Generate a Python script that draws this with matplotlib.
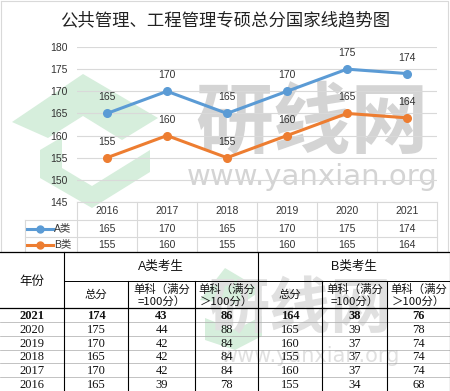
import numpy as np
import matplotlib.pyplot as plt
from matplotlib.patches import Polygon

plt.rcParams['font.family'] = ['Liberation Sans', 'Noto Sans CJK SC']

# chart data
years = ['2016', '2017', '2018', '2019', '2020', '2021']
a_total = [165, 170, 165, 170, 175, 174]
b_total = [155, 160, 155, 160, 165, 164]
series_names = ['A类', 'B类']
colors = ['#5B9BD5', '#ED7D31']

# lower table data (2021 first)
t_years = ['2021', '2020', '2019', '2018', '2017', '2016']
t_a_total = [174, 175, 170, 165, 170, 165]
t_a_eq100 = [43, 44, 42, 42, 42, 39]
t_a_gt100 = [86, 88, 84, 84, 84, 78]
t_b_total = [164, 165, 160, 155, 160, 155]
t_b_eq100 = [38, 39, 37, 37, 37, 34]
t_b_gt100 = [76, 78, 74, 74, 74, 68]
sub_heads = ['总分', '单科（满分\n=100分）', '单科（满分\n＞100分）']

W, H = 450, 391
fig = plt.figure(figsize=(W / 100, H / 100), dpi=100)

# background axes in pixel coords
bg = fig.add_axes([0, 0, 1, 1])
bg.set_xlim(0, W)
bg.set_ylim(H, 0)
bg.axis('off')

# watermark (logo + text)
wm_green = '#d6eedc'
for poly in [
    [(12, 122), (83, 74), (158, 118), (122, 140), (83, 116), (48, 138)],
    [(40, 150), (62, 137), (62, 168), (92, 186), (150, 150), (150, 172), (92, 208), (40, 178)],
    [(200, 300), (225, 268), (262, 290), (240, 305)],
    [(205, 340), (205, 318), (235, 330), (262, 316), (262, 336), (235, 350)],
]:
    bg.add_patch(Polygon(poly, closed=True, color=wm_green, lw=0, zorder=0))
bg.text(312, 124, '研线网', fontsize=56, color='#d4d4d4', ha='center', va='center',
        family=['Noto Sans CJK SC'], fontweight='bold', zorder=0)
bg.text(312, 177, 'www.yanxian.org', fontsize=21, color='#d4d4d4', ha='center', va='center',
        family=['DejaVu Sans'], zorder=0)
bg.text(300, 310, '研线网', fontsize=44, color='#e0e0e0', ha='center', va='center',
        family=['Noto Sans CJK SC'], fontweight='bold', zorder=0)
bg.text(310, 356, 'www.yanxian.org', fontsize=15, color='#e0e0e0', ha='center', va='center',
        family=['DejaVu Sans'], zorder=0)

# chart frame
bg.plot([1, 448, 448, 1, 1], [1, 1, 252, 252, 1], color='#d9d9d9', lw=0.8, zorder=1)

# title
bg.text(225, 20, '公共管理、工程管理专硕总分国家线趋势图', fontsize=12.5, ha='center', va='center',
        family=['Noto Sans CJK SC'], color='#222222')

# line chart
x0, x1, ytop, ybot = 77, 437, 47, 202
ax = fig.add_axes([x0 / W, (H - ybot) / H, (x1 - x0) / W, (ybot - ytop) / H])
ax.patch.set_alpha(0)
ax.set_xlim(-0.5, len(years) - 0.5)
ax.set_ylim(145, 180)
ax.set_yticks(np.arange(145, 181, 5))
ax.set_xticks([])
ax.tick_params(axis='y', length=0, pad=6.5, labelsize=7.5, colors='#333333')
ax.grid(axis='y', color='#d9d9d9', lw=0.8)
for s in ax.spines.values():
    s.set_visible(False)
xs = np.arange(len(years))
for vals, c in zip([a_total, b_total], colors):
    ax.plot(xs, vals, color=c, lw=2.2, marker='o', ms=5.5, zorder=3)
    for xi, v in zip(xs, vals):
        ax.annotate(str(v), (xi, v), xytext=(0, 11.5), textcoords='offset points',
                    ha='center', va='center', fontsize=7.5, color='#333333')

# data table under chart
tc = '#d9d9d9'
col_w = (x1 - x0) / len(years)
row_y = [202, 220, 237, 252]
for i in range(len(years) + 1):
    bg.plot([x0 + i * col_w] * 2, [202, 252], color=tc, lw=0.8)
bg.plot([x0, x1], [202, 202], color=tc, lw=0.8)
for yy in row_y[1:]:
    bg.plot([25, x1], [yy, yy], color=tc, lw=0.8)
bg.plot([25, 25], [220, 252], color=tc, lw=0.8)
for i, yr in enumerate(years):
    cx = x0 + (i + 0.5) * col_w
    bg.text(cx, 211, yr, fontsize=7.5, ha='center', va='center', color='#333333')
    bg.text(cx, 228.5, str(a_total[i]), fontsize=7.5, ha='center', va='center', color='#333333')
    bg.text(cx, 244.5, str(b_total[i]), fontsize=7.5, ha='center', va='center', color='#333333')
for name, c, yy in zip(series_names, colors, [228.5, 244.5]):
    bg.plot([27, 53], [yy, yy], color=c, lw=2.2)
    bg.plot([40], [yy], marker='o', ms=5, color=c)
    bg.text(54, yy, name, fontsize=7.5, ha='left', va='center', color='#333333')

# lower table
cols = [0, 64, 128, 195, 258, 322, 387, 450]
t_top, t_mid, t_head = 252, 281, 308
row_h = (391 - t_head) / len(t_years)
k = 'black'
bg.plot([0, W], [t_top, t_top], color=k, lw=0.9)
bg.plot([64, W], [t_mid, t_mid], color=k, lw=0.7)
bg.plot([0, W], [t_head, t_head], color=k, lw=0.9)
for j in range(1, len(t_years)):
    yy = t_head + j * row_h
    bg.plot([0, W], [yy, yy], color='#aaaaaa', lw=0.5)
for cx in [64, 258]:
    bg.plot([cx, cx], [t_top, H], color=k, lw=0.8)
for cx in [128, 195, 322, 387]:
    bg.plot([cx, cx], [t_mid, H], color=k, lw=0.8)
bg.plot([449.5, 449.5], [t_top, H], color=k, lw=0.8)

bg.text(32, 281, '年份', fontsize=9, ha='center', va='center', family=['Noto Sans CJK SC'], color='#111111')
bg.text(161, 267, 'A类考生', fontsize=9, ha='center', va='center', color='#111111')
bg.text(354, 267, 'B类考生', fontsize=9, ha='center', va='center', color='#111111')
for g in range(2):
    for j, sh in enumerate(sub_heads):
        c0, c1 = cols[1 + g * 3 + j], cols[2 + g * 3 + j]
        bg.text((c0 + c1) / 2, 295, sh, fontsize=8.2, ha='center', va='center',
                family=['Noto Sans CJK SC'], color='#111111', linespacing=1.1)

table_cols = [t_years, t_a_total, t_a_eq100, t_a_gt100, t_b_total, t_b_eq100, t_b_gt100]
for r in range(len(t_years)):
    cy = t_head + (r + 0.5) * row_h + 1
    for j, colvals in enumerate(table_cols):
        cx = (cols[j] + cols[j + 1]) / 2
        bg.text(cx, cy, str(colvals[r]), fontsize=9, ha='center', va='center',
                family=['Liberation Serif'], fontweight='bold' if r == 0 else 'normal',
                color='#111111')

fig.savefig('out.png', dpi=100)
